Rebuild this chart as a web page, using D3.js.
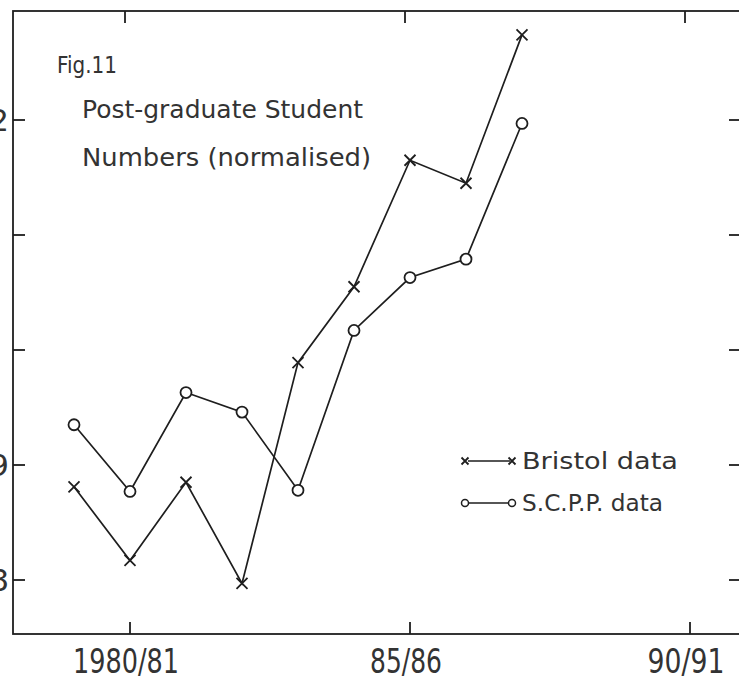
<!DOCTYPE html>
<html>
<head>
<meta charset="utf-8">
<script src="https://cdn.jsdelivr.net/npm/d3@7"></script>
<style>
  body { margin: 0; background: #fff; }
  svg { display: block; }
  text { font-family: "DejaVu Sans", sans-serif; fill: #333; }
</style>
</head>
<body>
<div id="chart"></div>
<script>
// academic years (start year), 1979/80 .. 1987/88
var years = [1979, 1980, 1981, 1982, 1983, 1984, 1985, 1986, 1987];
// normalised post-graduate numbers
var bristol = [0.881, 0.817, 0.885, 0.797, 0.989, 1.055, 1.165, 1.145, 1.274];
var scpp = [0.935, 0.877, 0.963, 0.946, 0.878, 1.017, 1.063, 1.079, 1.197];

var xTicks = [1980, 1985, 1990];
var xTickLabels = ["1980/81", "85/86", "90/91"];
var yTicks = [0.8, 0.9, 1.0, 1.1, 1.2];
var yTickLabels = ["0.8", "0.9", "", "", "1.2"];

var width = 739, height = 677;
var padLeft = 13, padTop = 11, padBottom = 634, padRight = 742;
var ink = "#1e1e1e";

var svg = d3.select("#chart").append("svg")
    .attr("width", width)
    .attr("height", height);

var x = d3.scaleLinear().domain([1980, 1990]).range([130, 690]);
var y = d3.scaleLinear().domain([0.8, 1.2]).range([580, 120]);

//frame
svg.append("rect")
    .attr("x", padLeft)
    .attr("y", padTop)
    .attr("width", padRight - padLeft)
    .attr("height", padBottom - padTop)
    .attr("fill", "none")
    .attr("stroke", ink)
    .attr("stroke-width", 1.8);

//ticks point inwards on every side
var tickLen = 12;
var axes = svg.append("g").attr("stroke", ink).attr("stroke-width", 1.8);

axes.selectAll(".tl").data(yTicks).enter().append("line")
    .attr("x1", padLeft).attr("x2", padLeft + tickLen)
    .attr("y1", function (d) { return y(d); })
    .attr("y2", function (d) { return y(d); });

axes.selectAll(".tr").data(yTicks).enter().append("line")
    .attr("x1", width - tickLen + 2).attr("x2", padRight)
    .attr("y1", function (d) { return y(d); })
    .attr("y2", function (d) { return y(d); });

axes.selectAll(".tb").data(xTicks).enter().append("line")
    .attr("x1", function (d) { return x(d); })
    .attr("x2", function (d) { return x(d); })
    .attr("y1", padBottom).attr("y2", padBottom - tickLen);

axes.selectAll(".tt").data(xTicks).enter().append("line")
    .attr("x1", function (d) { return x(d) - 5; })
    .attr("x2", function (d) { return x(d) - 5; })
    .attr("y1", padTop).attr("y2", padTop + tickLen);

//tick labels (left ones are clipped by the page edge, as in the scan)
svg.selectAll(".yl").data(yTicks).enter().append("text")
    .attr("x", 9)
    .attr("y", function (d) { return y(d) + 11; })
    .attr("text-anchor", "end")
    .attr("font-size", "31px")
    .text(function (d, i) { return yTickLabels[i]; });

var xLabelWidths = [106, 72, 77];
svg.selectAll(".xl").data(xTicks).enter().append("text")
    .attr("x", function (d, i) { return x(d) - xLabelWidths[i] / 2 - 4; })
    .attr("y", 673)
    .attr("font-size", "33px")
    .attr("textLength", function (d, i) { return xLabelWidths[i]; })
    .attr("lengthAdjust", "spacingAndGlyphs")
    .text(function (d, i) { return xTickLabels[i]; });

//series
var line = d3.line()
    .x(function (d) { return x(d[0]); })
    .y(function (d) { return y(d[1]); });

var bristolPts = years.map(function (d, i) { return [d, bristol[i]]; });
var scppPts = years.map(function (d, i) { return [d, scpp[i]]; });

svg.append("path")
    .datum(bristolPts)
    .attr("d", line)
    .attr("fill", "none")
    .attr("stroke", ink)
    .attr("stroke-width", 1.7);

svg.append("path")
    .datum(scppPts)
    .attr("d", line)
    .attr("fill", "none")
    .attr("stroke", ink)
    .attr("stroke-width", 1.7);

function cross(g, cx, cy, s) {
    g.append("path")
        .attr("d", "M" + (cx - s) + "," + (cy - s) + "L" + (cx + s) + "," + (cy + s) +
                   "M" + (cx - s) + "," + (cy + s) + "L" + (cx + s) + "," + (cy - s))
        .attr("stroke", ink)
        .attr("stroke-width", 1.8)
        .attr("fill", "none");
}

var marks = svg.append("g");
bristolPts.forEach(function (d) { cross(marks, x(d[0]), y(d[1]), 5.5); });

marks.selectAll("circle").data(scppPts).enter().append("circle")
    .attr("cx", function (d) { return x(d[0]); })
    .attr("cy", function (d) { return y(d[1]); })
    .attr("r", 5.5)
    .attr("fill", "#fff")
    .attr("stroke", ink)
    .attr("stroke-width", 1.8);

//title
svg.append("text")
    .attr("x", 57).attr("y", 73)
    .attr("font-size", "23px")
    .attr("textLength", 60).attr("lengthAdjust", "spacingAndGlyphs")
    .text("Fig.11");

svg.append("text")
    .attr("x", 82).attr("y", 118)
    .attr("font-size", "25px")
    .attr("textLength", 281).attr("lengthAdjust", "spacingAndGlyphs")
    .text("Post-graduate Student");

svg.append("text")
    .attr("x", 82).attr("y", 166)
    .attr("font-size", "25px")
    .attr("textLength", 289).attr("lengthAdjust", "spacingAndGlyphs")
    .text("Numbers (normalised)");

//legend
var legend = svg.append("g");
var legendRows = [
    { name: "Bristol data", y: 461, mark: "x", w: 156 },
    { name: "S.C.P.P. data", y: 503, mark: "o", w: 141 }
];
legendRows.forEach(function (r) {
    legend.append("line")
        .attr("x1", 468).attr("x2", 510)
        .attr("y1", r.y).attr("y2", r.y)
        .attr("stroke", ink).attr("stroke-width", 1.5);
    [465, 512].forEach(function (cx) {
        if (r.mark === "x") {
            cross(legend, cx, r.y, 3.5);
        } else {
            legend.append("circle")
                .attr("cx", cx).attr("cy", r.y).attr("r", 3.5)
                .attr("fill", "#fff").attr("stroke", ink).attr("stroke-width", 1.5);
        }
    });
    legend.append("text")
        .attr("x", 522).attr("y", r.y + 8)
        .attr("font-size", "23px")
        .attr("textLength", r.w).attr("lengthAdjust", "spacingAndGlyphs")
        .text(r.name);
});
</script>
</body>
</html>
